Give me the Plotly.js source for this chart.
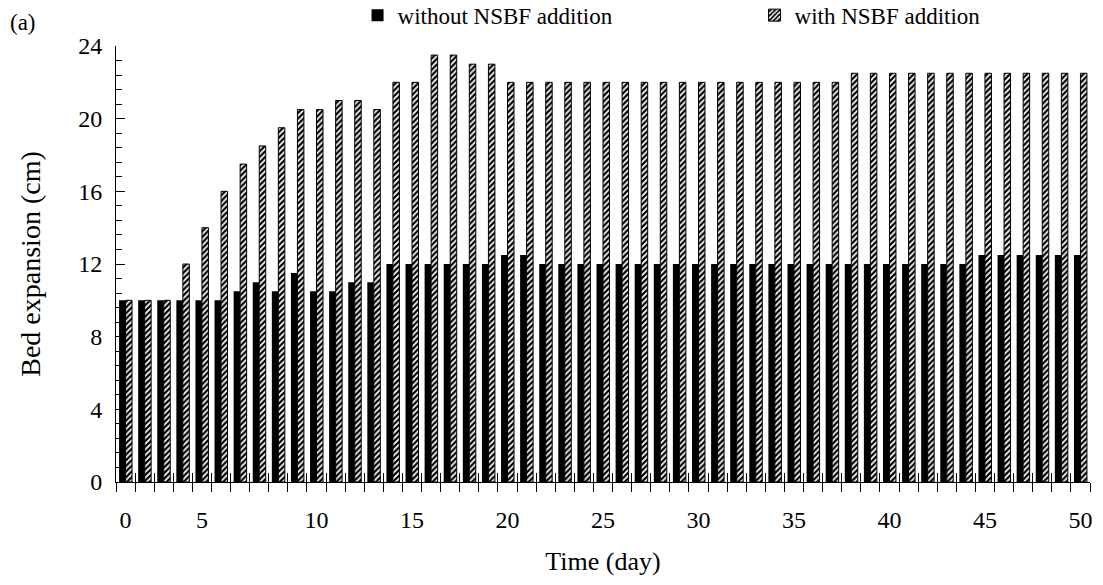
<!DOCTYPE html>
<html>
<head>
<meta charset="utf-8">
<script src="https://cdn.plot.ly/plotly-3.0.1.min.js"></script>
<style>html,body{margin:0;padding:0;background:#fff;}#chart{width:1103px;height:585px;}</style>
</head>
<body>
<div id="chart"></div>
<script>
// Day index (category position) 0..50
var days = [];
for (var d = 0; d <= 50; d++) days.push(d);

var withoutNSBF = [10,10,10,10,10,10,10.5,11,10.5,11.5,
                   10.5,10.5,11,11,12,12,12,12,12,12,
                   12.5,12.5,12,12,12,12,12,12,12,12,
                   12,12,12,12,12,12,12,12,12,12,
                   12,12,12,12,12,12.5,12.5,12.5,12.5,12.5,
                   12.5];
var withNSBF = [10,10,10,12,14,16,17.5,18.5,19.5,20.5,
                20.5,21,21,20.5,22,22,23.5,23.5,23,23,
                22,22,22,22,22,22,22,22,22,22,
                22,22,22,22,22,22,22,22,22.5,22.5,
                22.5,22.5,22.5,22.5,22.5,22.5,22.5,22.5,22.5,22.5,
                22.5];

var tickPositions = [0,4,10,15,20,25,30,35,40,45,50];
var tickLabels = ['0','5','10','15','20','25','30','35','40','45','50'];
var boundaries = [];
for (var b = -0.5; b <= 50.5; b += 1) boundaries.push(b);

var FONT = 'Liberation Serif, Times New Roman, serif';

var traces = [
  {type:'bar', name:'without NSBF addition', x:days, y:withoutNSBF,
   marker:{color:'#000000', line:{width:0}}},
  {type:'bar', name:'with NSBF addition', x:days, y:withNSBF,
   marker:{color:'#ffffff', line:{color:'#000000', width:1},
           pattern:{shape:'/', fgcolor:'#000000', bgcolor:'#ffffff', size:4, solidity:0.55}}},
  {type:'scatter', x:[], y:[], xaxis:'x2', showlegend:false, hoverinfo:'skip'}
];

var layout = {
  width:1103, height:585,
  paper_bgcolor:'#ffffff', plot_bgcolor:'#ffffff',
  margin:{l:116, r:13, t:46, b:103, autoexpand:false},
  barmode:'group', bargap:0.32, bargroupgap:0,
  font:{family:FONT, color:'#000000', size:23},
  showlegend:true,
  legend:{orientation:'h', x:0.248, xanchor:'left', y:1.12, yanchor:'top',
          font:{family:FONT, size:23, color:'#000'}, traceorder:'normal',
          entrywidth:352, entrywidthmode:'pixels', bgcolor:'rgba(0,0,0,0)', itemclick:false},
  xaxis:{range:[-0.5,50.5], tickmode:'array', tickvals:tickPositions, ticktext:tickLabels,
         ticks:'', showgrid:false, zeroline:false, showline:true, linecolor:'#000', linewidth:1,
         tickfont:{family:FONT, size:24}, ticklabelstandoff:16,
         minor:{tickmode:'array', tickvals:boundaries, ticks:'outside', ticklen:9, tickcolor:'#000', tickwidth:1, showgrid:false},
         title:{text:'Time (day)', font:{family:FONT, size:26}, standoff:20}},
  xaxis2:{range:[-0.5,50.5], overlaying:'x', anchor:'y', side:'bottom', tickmode:'array', tickvals:boundaries,
          ticks:'inside', ticklen:9, tickcolor:'#000', tickwidth:1, showticklabels:false,
          showgrid:false, zeroline:false, showline:false},
  yaxis:{range:[0,24], tickmode:'linear', tick0:0, dtick:4, ticks:'inside', ticklen:9, tickcolor:'#000', tickwidth:1,
         showgrid:false, zeroline:false, showline:true, linecolor:'#000', linewidth:1,
         tickfont:{family:FONT, size:24}, ticklabelstandoff:8,
         minor:{tick0:0, dtick:0.8, ticks:'inside', ticklen:6, tickcolor:'#000', tickwidth:1, showgrid:false},
         title:{text:'Bed expansion (cm)', font:{family:FONT, size:28}, standoff:29}},
  annotations:[{text:'(a)', xref:'paper', yref:'paper', x:-0.111, y:1.055, xanchor:'left', yanchor:'middle',
                showarrow:false, font:{family:FONT, size:23, color:'#000'}}]
};

Plotly.newPlot('chart', traces, layout, {displayModeBar:false, staticPlot:true});
</script>
</body>
</html>
